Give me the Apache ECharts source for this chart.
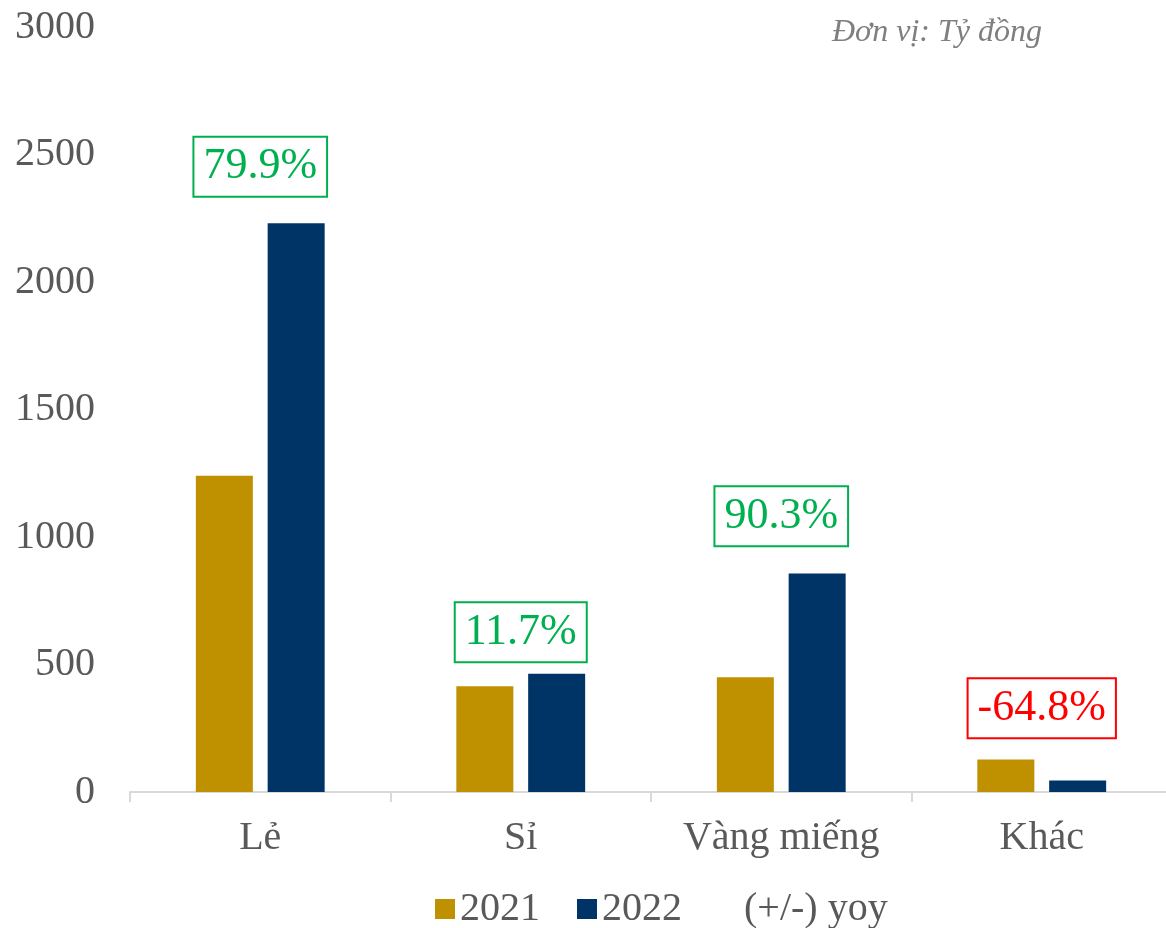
<!DOCTYPE html>
<html><head><meta charset="utf-8">
<script src="https://cdn.jsdelivr.net/npm/echarts@6/dist/echarts.min.js"></script>
<style>html,body{margin:0;padding:0;background:#fff;overflow:hidden}#c{width:1180px;height:928px}</style>
</head><body><div id="c"></div>
<script>
const categories = ['Lẻ', 'Sỉ', 'Vàng miếng', 'Khác'];
const values2021 = [1240, 415, 450, 127];
const values2022 = [2230, 464, 857, 45];
const yoyPct = [79.9, 11.7, 90.3, -64.8];
const yTicks = [0, 500, 1000, 1500, 2000, 2500, 3000];

const FONT = '"Liberation Serif", serif';
const labelLift = [222, 162, 224, 201]; // layout: how far above the taller bar each yoy box sits

const chart = echarts.init(document.getElementById('c'), null, {renderer: 'canvas'});
const yoyData = yoyPct.map((p, i) => ({
  value: [i, Math.max(values2021[i], values2022[i]) + labelLift[i]],
  label: {
    color: p >= 0 ? '#00B050' : '#FF0000',
    borderColor: p >= 0 ? '#00B050' : '#FF0000'
  },
  pct: p
}));

chart.setOption({
  animation: false,
  grid: {left: 130, top: 27, height: 765, width: 1042},
  graphic: [{
    type: 'text', left: 832, top: 17,
    style: {text: 'Đơn vị: Tỷ đồng', font: 'italic 32px ' + FONT, fill: '#7F7F7F'}
  }],
  legend: {
    left: 430, top: 884, itemWidth: 20, itemHeight: 20, itemGap: 37,
    textStyle: {fontFamily: FONT, fontSize: 40, color: '#595959'},
    data: [
      {name: '2021', icon: 'rect'},
      {name: '2022', icon: 'rect'},
      {name: '(+/-) yoy', icon: 'rect', itemStyle: {color: 'rgba(0,0,0,0)', opacity: 0}}
    ]
  },
  xAxis: {
    type: 'category', data: categories,
    axisLine: {lineStyle: {color: '#D9D9D9', width: 2}},
    axisTick: {show: true, length: 10, lineStyle: {color: '#D9D9D9', width: 2}},
    axisLabel: {fontFamily: FONT, fontSize: 40, color: '#595959', margin: 26}
  },
  yAxis: {
    type: 'value', min: yTicks[0], max: yTicks[yTicks.length - 1], interval: 500,
    splitLine: {show: false}, axisLine: {show: false}, axisTick: {show: false},
    axisLabel: {fontFamily: FONT, fontSize: 40, color: '#595959', margin: 35,
                formatter: v => String(v)}
  },
  series: [
    {name: '2021', type: 'bar', data: values2021, barWidth: 57, barGap: '26%',
     itemStyle: {color: '#BF9000'}},
    {name: '2022', type: 'bar', data: values2022, barWidth: 57,
     itemStyle: {color: '#003366'}},
    {name: '(+/-) yoy', type: 'scatter', symbolSize: 0, data: yoyData,
     itemStyle: {color: 'rgba(0,0,0,0)', opacity: 1},
     label: {
       show: true, position: 'inside',
       fontFamily: FONT, fontSize: 44, lineHeight: 44,
       borderWidth: 2, padding: [7, 9], backgroundColor: '#fff',
       formatter: p => p.data.pct.toFixed(1) + '%'
     }}
  ]
});
</script></body></html>
